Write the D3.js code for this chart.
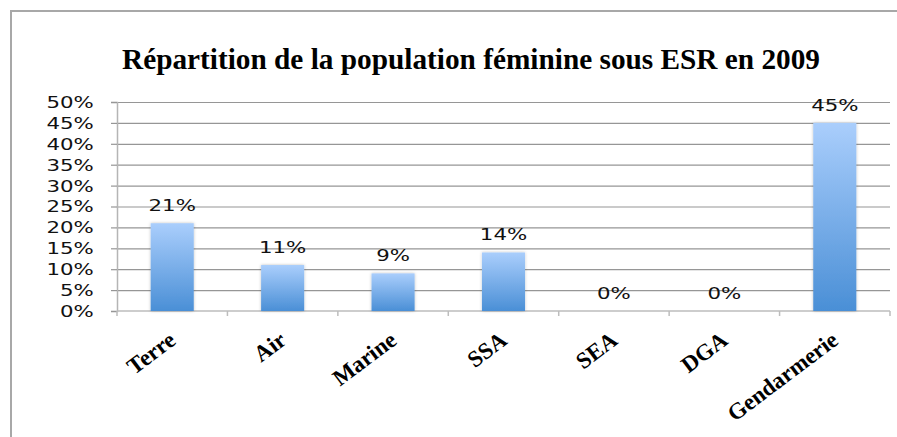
<!DOCTYPE html>
<meta charset="utf-8">
<style>
body { margin: 0; background: #fff; }
.grid line { stroke: #969696; stroke-width: 1.2px; }
.grid path { display: none; }
.num { font-family: "DejaVu Sans", sans-serif; font-size: 15px; fill: #111; }
.cat { font-family: "Liberation Serif", "Times New Roman", serif; font-weight: bold; font-size: 23px; fill: #000; }
</style>
<body>
<script src="https://d3js.org/d3.v7.min.js"></script>
<script>
// data
var categories = ["Terre", "Air", "Marine", "SSA", "SEA", "DGA", "Gendarmerie"];
var values = [21, 11, 9, 14, 0, 0, 45];
var yTicks = [0, 5, 10, 15, 20, 25, 30, 35, 40, 45, 50];
var title = "Répartition de la population féminine sous ESR en 2009";

var W = 897, H = 437;
var plotLeft = 117, plotRight = 890, plotTop = 102, plotBottom = 311;

var svg = d3.select("body").append("svg")
    .attr("width", W)
    .attr("height", H);

var defs = svg.append("defs");
var grad = defs.append("linearGradient")
    .attr("id", "barGrad")
    .attr("x1", 0).attr("y1", 0).attr("x2", 0).attr("y2", 1);
grad.append("stop").attr("offset", "0%").attr("stop-color", "#aacefc");
grad.append("stop").attr("offset", "100%").attr("stop-color", "#4a8fd6");
defs.append("filter").attr("id", "shadow")
    .attr("x", "-30%").attr("y", "-10%").attr("width", "160%").attr("height", "120%")
  .append("feDropShadow")
    .attr("dx", 0).attr("dy", 0).attr("stdDeviation", 1.5)
    .attr("flood-color", "#000").attr("flood-opacity", 0.25);

// chart frame (only top and left edges visible)
svg.append("rect")
    .attr("x", 11).attr("y", 11)
    .attr("width", W + 20).attr("height", H + 20)
    .attr("fill", "none")
    .attr("stroke", "#a8a8a8")
    .attr("stroke-width", 2);

// title
svg.append("text")
    .attr("x", 471).attr("y", 69)
    .attr("text-anchor", "middle")
    .attr("textLength", 698)
    .attr("lengthAdjust", "spacingAndGlyphs")
    .style("font-family", "'Liberation Serif', 'Times New Roman', serif")
    .style("font-weight", "bold")
    .style("font-size", "29px")
    .text(title);

// scales
var x = d3.scaleBand()
    .domain(categories)
    .range([plotLeft, plotRight])
    .paddingInner(0.61)
    .paddingOuter(0.305);

var xb = d3.scaleBand()
    .domain(categories)
    .range([plotLeft, plotRight])
    .padding(0);

var y = d3.scaleLinear()
    .domain([0, 50])
    .range([plotBottom, plotTop]);

// gridlines
svg.append("g")
    .attr("class", "grid")
    .attr("transform", "translate(" + plotLeft + ",0)")
    .call(d3.axisLeft(y).tickValues(yTicks.slice(1)).tickSize(-(plotRight - plotLeft)).tickFormat(""));

// y axis
var yAxis = svg.append("g")
    .attr("transform", "translate(" + plotLeft + ",0)")
    .call(d3.axisLeft(y).tickValues(yTicks).tickSize(6).tickFormat(function(d) { return d + "%"; }));
yAxis.select(".domain").attr("stroke", "#b5b5b5").attr("stroke-width", 1.5);
yAxis.selectAll(".tick line").attr("stroke", "#969696").attr("stroke-width", 1.2);
yAxis.selectAll(".tick text")
    .attr("class", "num")
    .attr("x", -16.4)
    .attr("dy", "0.36em")
    .attr("transform", "scale(1.42,1)")
    .style("font-family", "'DejaVu Sans', sans-serif")
    .style("font-size", "15px")
    .attr("fill", "#111");

// x axis line and boundary ticks
svg.append("line")
    .attr("x1", plotLeft).attr("x2", plotRight)
    .attr("y1", plotBottom).attr("y2", plotBottom)
    .attr("stroke", "#bdbdbd").attr("stroke-width", 1.5);
var bounds = categories.map(function(c) { return xb(c); }).concat([plotRight]);
svg.selectAll(".xtick")
    .data(bounds)
  .enter().append("line")
    .attr("x1", function(d) { return d; })
    .attr("x2", function(d) { return d; })
    .attr("y1", plotBottom)
    .attr("y2", plotBottom + 5)
    .attr("stroke", "#bdbdbd")
    .attr("stroke-width", 1.5);

// bars
svg.selectAll(".bar")
    .data(values)
  .enter().append("rect")
    .attr("x", function(d, i) { return x(categories[i]); })
    .attr("y", function(d) { return y(d); })
    .attr("width", x.bandwidth())
    .attr("height", function(d) { return plotBottom - y(d); })
    .attr("fill", "url(#barGrad)")
    .attr("filter", "url(#shadow)");

// value labels
svg.selectAll(".val")
    .data(values)
  .enter().append("text")
    .attr("class", "num")
    .attr("text-anchor", "middle")
    .attr("transform", function(d, i) {
      return "translate(" + (x(categories[i]) + x.bandwidth() / 2) + "," + (y(d) - 12) + ") scale(1.42,1)";
    })
    .text(function(d) { return d + "%"; });

// category labels
svg.selectAll(".cat")
    .data(categories)
  .enter().append("text")
    .attr("class", "cat")
    .attr("text-anchor", "end")
    .attr("transform", function(d) {
      return "translate(" + (xb(d) + xb.bandwidth() / 2 + 5) + "," + (plotBottom + 32) + ") rotate(-37)";
    })
    .text(function(d) { return d; });
</script>
</body>
